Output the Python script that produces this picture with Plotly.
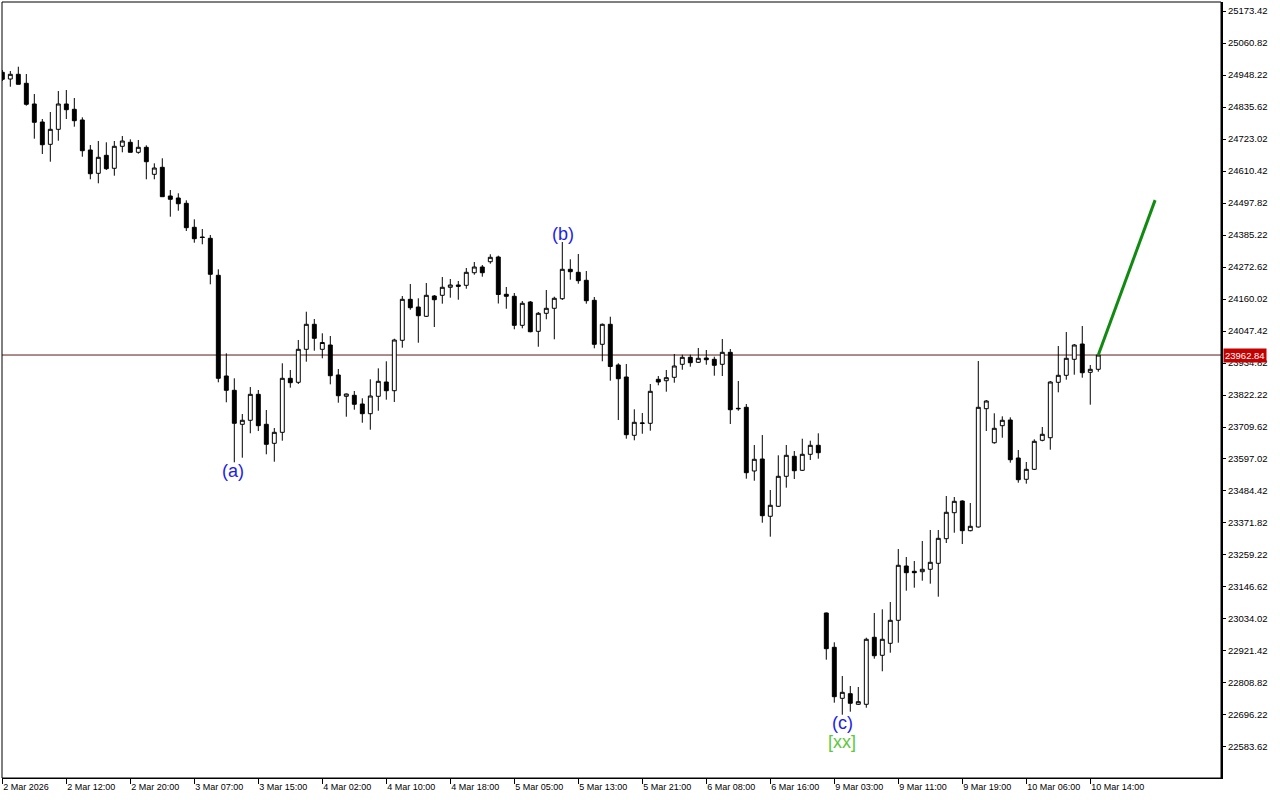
import plotly.graph_objects as go

# hourly bars, index 0..137 (2 Mar 2026 -> 10 Mar 2026)
opens = [
    24957.7, 24934.1, 24950.7, 24919.0, 24846.2, 24782.8, 24704.3, 24757.1, 24846.2, 24827.5,
    24789.9, 24684.3, 24602.3, 24665.6, 24619.9, 24697.3, 24711.4, 24676.2, 24693.8, 24598.8,
    24623.4, 24522.4, 24515.4, 24496.7, 24412.3, 24378.2, 24373.6, 24243.4, 23889.1, 23838.7,
    23719.1, 23733.2, 23824.6, 23719.1, 23652.2, 23690.9, 23880.9, 23866.9, 23983.0, 24071.0,
    23983.0, 23998.1, 23892.6, 23817.6, 23821.1, 23790.5, 23756.4, 23817.6, 23867.9, 23837.3,
    24014.7, 24158.9, 24131.8, 24099.1, 24170.5, 24173.0, 24201.2, 24209.3, 24208.2, 24252.5,
    24272.6, 24291.2, 24307.8, 24176.5, 24169.5, 24067.4, 24149.4, 24046.3, 24109.7, 24127.3,
    24161.0, 24264.5, 24253.9, 24225.8, 24155.4, 24000.6, 24071.0, 23927.8, 23885.5, 23680.4,
    23721.9, 23722.6, 23877.4, 23872.5, 23884.5, 23930.2, 23954.8, 23937.3, 23952.4, 23947.8,
    23930.2, 23972.4, 23775.4, 23778.9, 23554.8, 23597.0, 23395.4, 23430.6, 23536.1, 23606.5,
    23557.2, 23613.5, 23645.2, 23055.1, 22934.4, 22754.9, 22771.1, 22733.8, 22733.8, 22969.6,
    22906.3, 22948.5, 23029.4, 23220.5, 23201.8, 23200.4, 23208.9, 23230.0, 23316.6, 23408.0,
    23449.2, 23344.7, 23357.7, 23774.0, 23654.3, 23714.2, 23734.2, 23600.5, 23525.6, 23560.7,
    23662.8, 23671.9, 23866.9, 23891.5, 23947.8, 24001.6, 23902.1, 23912.6,
]
highs = [
    24965.8, 24962.3, 24977.4, 24951.7, 24881.3, 24793.4, 24818.0, 24891.9, 24895.4, 24867.3,
    24799.3, 24701.9, 24716.0, 24711.4, 24716.0, 24733.5, 24721.9, 24719.5, 24700.8, 24637.5,
    24655.1, 24543.5, 24531.9, 24507.3, 24440.4, 24406.3, 24385.2, 24264.5, 23968.9, 23880.9,
    23755.3, 23850.3, 23839.8, 23769.4, 23706.1, 23933.7, 23910.2, 24015.7, 24115.3, 24089.6,
    24039.3, 24029.8, 23913.7, 23827.5, 23836.3, 23810.6, 23877.4, 23916.1, 23940.8, 24020.3,
    24170.5, 24212.8, 24162.5, 24216.3, 24174.1, 24237.4, 24230.4, 24223.3, 24269.1, 24290.2,
    24279.6, 24317.3, 24312.4, 24202.2, 24181.1, 24152.9, 24152.9, 24114.3, 24191.7, 24168.1,
    24360.6, 24299.7, 24318.3, 24258.5, 24167.0, 24073.8, 24097.7, 23933.7, 23931.3, 23771.9,
    23758.9, 23860.9, 23889.0, 23910.2, 23966.5, 23964.0, 23964.0, 23987.6, 23980.5, 23957.0,
    24019.2, 23984.1, 23871.5, 23790.5, 23646.3, 23681.4, 23487.9, 23610.0, 23646.3, 23625.1,
    23668.4, 23661.4, 23687.4, 23056.9, 22952.0, 22833.4, 22798.2, 22794.7, 22968.2, 23055.1,
    23068.1, 23093.8, 23280.3, 23252.2, 23238.1, 23308.5, 23347.2, 23347.2, 23466.8, 23463.3,
    23451.7, 23442.2, 23941.8, 23804.6, 23757.8, 23747.2, 23743.7, 23628.7, 23586.4, 23666.3,
    23709.6, 23871.5, 23994.6, 24043.9, 24001.6, 24065.0, 23927.8, 23962.84,
]
lows = [
    24927.1, 24907.0, 24915.5, 24840.2, 24724.1, 24670.2, 24643.1, 24717.0, 24793.4, 24766.3,
    24660.7, 24581.2, 24567.1, 24613.9, 24593.9, 24676.2, 24676.2, 24671.3, 24581.2, 24581.2,
    24520.0, 24449.6, 24470.7, 24399.3, 24358.1, 24352.5, 24211.7, 23866.9, 23796.5, 23585.4,
    23601.6, 23687.4, 23695.5, 23613.5, 23587.5, 23661.4, 23847.9, 23860.9, 23939.4, 23978.1,
    23951.3, 23859.8, 23795.1, 23745.8, 23770.5, 23724.7, 23700.1, 23766.9, 23805.7, 23797.6,
    23988.6, 24122.3, 24006.2, 24096.7, 24061.5, 24143.5, 24164.6, 24157.5, 24196.2, 24245.5,
    24238.5, 24284.2, 24144.1, 24125.8, 24053.4, 24056.9, 24042.8, 23992.1, 24088.6, 24018.2,
    24156.5, 24227.9, 24213.8, 24143.5, 23986.5, 23940.8, 23872.5, 23734.2, 23668.4, 23662.8,
    23686.0, 23696.6, 23856.3, 23833.8, 23865.5, 23911.2, 23921.8, 23934.8, 23928.8, 23890.1,
    23889.0, 23720.2, 23766.9, 23527.7, 23520.6, 23372.9, 23323.6, 23428.1, 23496.0, 23526.6,
    23554.8, 23593.5, 23598.1, 22890.8, 22739.5, 22697.2, 22707.8, 22731.4, 22721.8, 22894.3,
    22850.0, 22915.4, 22950.6, 23133.6, 23144.1, 23168.8, 23158.2, 23112.5, 23301.4, 23337.6,
    23297.9, 23342.6, 23355.9, 23695.5, 23650.8, 23671.9, 23584.0, 23513.6, 23510.1, 23558.2,
    23659.3, 23629.7, 23831.7, 23876.0, 23893.6, 23883.1, 23788.1, 23904.2,
]
closes = [
    24933.1, 24950.7, 24915.5, 24845.1, 24781.8, 24702.9, 24757.1, 24846.2, 24826.1, 24787.4,
    24681.8, 24600.9, 24658.6, 24618.5, 24697.3, 24716.0, 24676.2, 24693.8, 24643.1, 24620.9,
    24520.0, 24510.8, 24495.3, 24410.9, 24372.2, 24376.4, 24246.9, 23880.9, 23838.7, 23722.6,
    23733.2, 23824.6, 23714.2, 23648.7, 23690.9, 23880.9, 23865.5, 23983.0, 24071.0, 24021.7,
    24006.9, 23890.1, 23819.7, 23825.7, 23789.5, 23756.4, 23818.7, 23870.4, 23837.3, 24015.7,
    24158.9, 24129.4, 24101.2, 24173.0, 24157.5, 24201.2, 24209.3, 24204.7, 24253.9, 24272.6,
    24252.5, 24306.7, 24175.8, 24169.5, 24067.4, 24144.9, 24044.9, 24109.7, 24127.3, 24162.5,
    24264.5, 24256.1, 24224.4, 24154.0, 24000.6, 24071.0, 23922.5, 23879.5, 23682.5, 23726.1,
    23723.7, 23835.2, 23867.9, 23883.1, 23924.2, 23954.8, 23935.9, 23951.3, 23946.4, 23926.7,
    23972.4, 23770.5, 23774.0, 23548.8, 23595.9, 23397.5, 23434.1, 23536.1, 23610.0, 23555.8,
    23613.5, 23645.2, 23619.2, 22929.5, 22760.6, 22776.0, 22737.4, 22743.0, 22962.6, 22904.8,
    22962.6, 23029.4, 23223.0, 23196.9, 23196.9, 23208.9, 23233.5, 23317.9, 23409.4, 23448.1,
    23344.7, 23360.2, 23778.9, 23801.1, 23705.0, 23733.2, 23594.5, 23524.2, 23560.7, 23659.3,
    23683.9, 23867.9, 23891.5, 23951.3, 23998.1, 23900.6, 23912.6, 23962.84,
]
bars = list(range(len(closes)))

time_labels = [
    "2 Mar 2026", "2 Mar 12:00", "2 Mar 20:00", "3 Mar 07:00", "3 Mar 15:00", "4 Mar 02:00",
    "4 Mar 10:00", "4 Mar 18:00", "5 Mar 05:00", "5 Mar 13:00", "5 Mar 21:00", "6 Mar 08:00",
    "6 Mar 16:00", "9 Mar 03:00", "9 Mar 11:00", "9 Mar 19:00", "10 Mar 06:00", "10 Mar 14:00",
]
price_ticks = [
    25173.42, 25060.82, 24948.22, 24835.62, 24723.02, 24610.42, 24497.82, 24385.22,
    24272.62, 24160.02, 24047.42, 23934.82, 23822.22, 23709.62, 23597.02, 23484.42,
    23371.82, 23259.22, 23146.62, 23034.02, 22921.42, 22808.82, 22696.22, 22583.62,
]

# wave labels: (text, bar, price, colour)
wave_labels = [
    ("(a)", 28.8, 23555, "#1c1cf0"),
    ("(b)", 70.1, 24389, "#1c1cf0"),
    ("(c)", 105.0, 22668, "#1c1cf0"),
    ("[xx]", 105.0, 22601, "#5cc83a"),
]

# projected move
proj_bars = [137, 144.1]
proj_price = [23962.84, 24508.0]

last = closes[-1]
font = "Liberation Sans"

fig = go.Figure()
fig.add_trace(go.Candlestick(
    x=bars, open=opens, high=highs, low=lows, close=closes,
    increasing=dict(line=dict(color="black", width=1), fillcolor="white"),
    decreasing=dict(line=dict(color="black", width=1), fillcolor="black"),
    whiskerwidth=0, hoverinfo="skip", showlegend=False,
))
fig.add_trace(go.Scatter(
    x=proj_bars, y=proj_price, mode="lines",
    line=dict(color="#118a11", width=3), showlegend=False, hoverinfo="skip",
))

fig.add_hline(y=last, line=dict(color="#5a1a1a", width=1), layer="below")

for text, b, p, col in wave_labels:
    fig.add_annotation(x=b, y=p, text=text, showarrow=False,
                       font=dict(family=font, size=18, color=col))

fig.add_annotation(xref="paper", x=1, y=last, xanchor="left", yanchor="middle",
                   text=f"{last:.2f}", showarrow=False, xshift=2,
                   bgcolor="#c40000", borderpad=1,
                   font=dict(family=font, size=9.5, color="white"))

fig.add_shape(type="rect", xref="paper", yref="paper", x0=0, x1=1, y0=0, y1=1,
              line=dict(color="black", width=1))

fig.update_xaxes(
    range=[-0.04, 152.34], rangeslider_visible=False,
    tickvals=list(range(0, 137, 8)), ticktext=time_labels,
    ticks="outside", ticklen=5, tickcolor="black", ticklabelposition="outside right",
    showline=True, linecolor="black", linewidth=1, showgrid=False, zeroline=False,
    tickfont=dict(family=font, size=9, color="black"),
)
fig.update_yaxes(
    range=[22474.5, 25205.1], side="right",
    tickvals=price_ticks, ticktext=[f"{v:.2f}" for v in price_ticks],
    ticks="outside", ticklen=3, tickcolor="black",
    showline=True, linecolor="black", linewidth=2, showgrid=False, zeroline=False,
    tickfont=dict(family=font, size=9.5, color="black"),
)
fig.update_layout(
    width=1280, height=800,
    margin=dict(l=2, r=59, t=2, b=22),
    paper_bgcolor="white", plot_bgcolor="white",
    showlegend=False,
)

fig.write_html("out.html", config={"displayModeBar": False},
               post_script="document.body.style.margin='0';")
